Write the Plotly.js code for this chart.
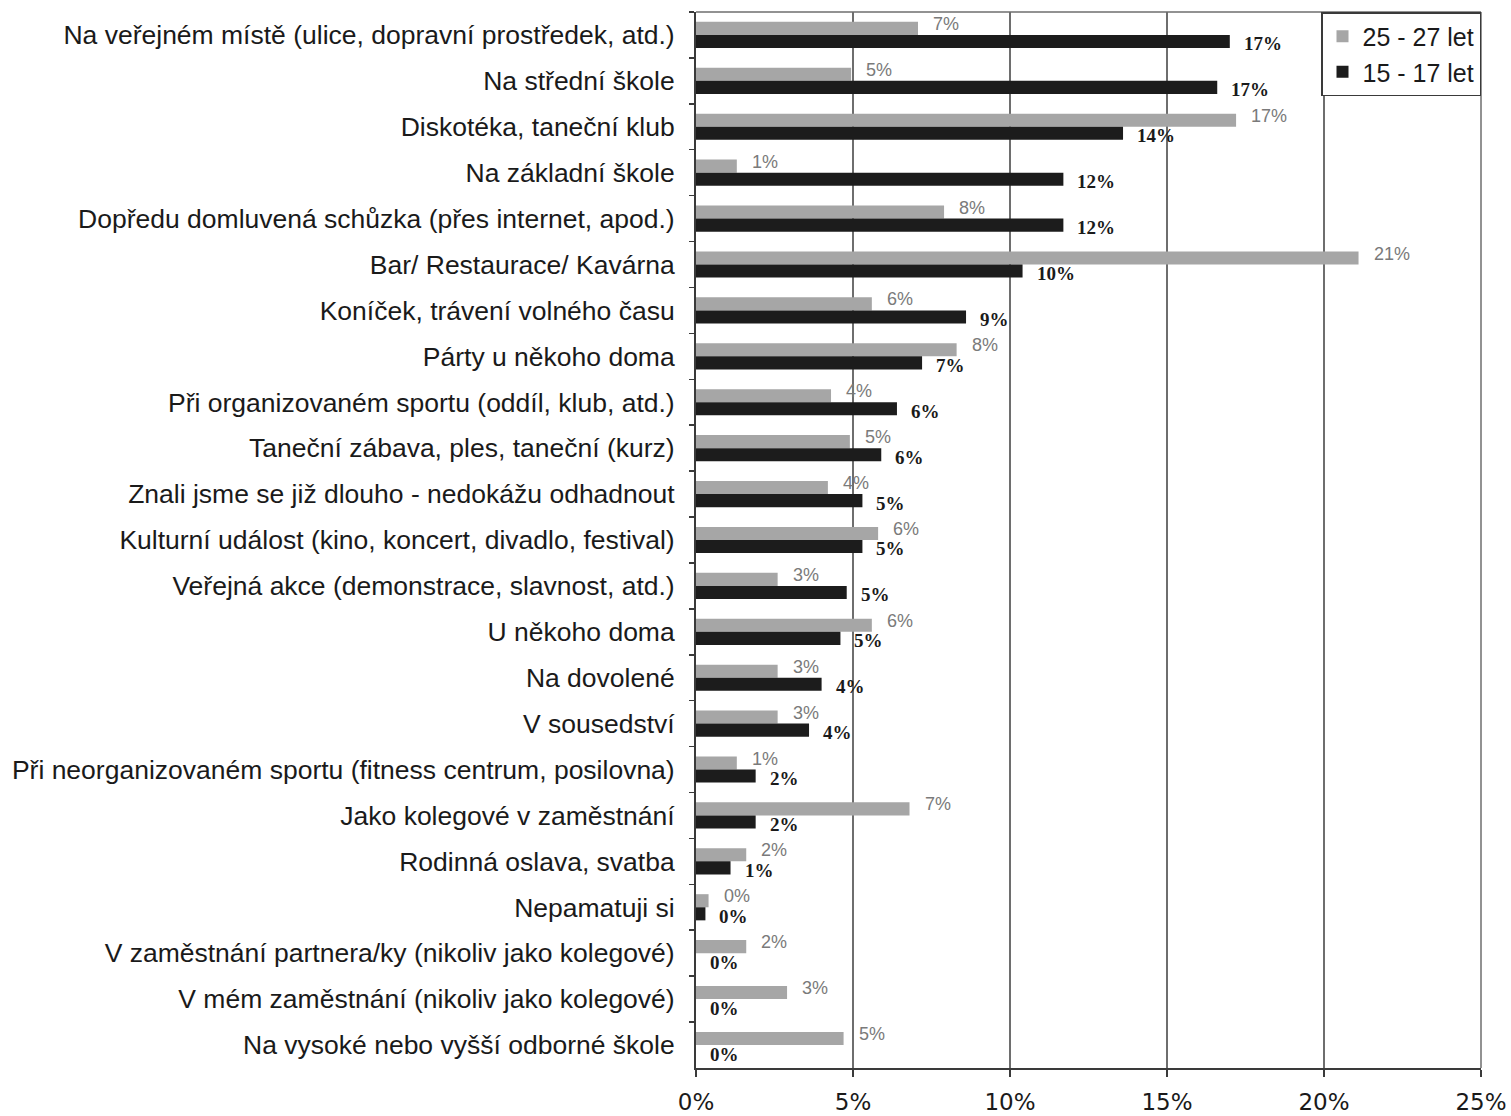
<!DOCTYPE html>
<html>
<head>
<meta charset="utf-8">
<script src="https://cdn.plot.ly/plotly-3.0.1.min.js"></script>
<style>html,body{margin:0;padding:0;background:#fff;}#chart{width:1511px;height:1116px;}</style>
</head>
<body>
<div id="chart"></div>
<script>
const categories = [
  "Na veřejném místě (ulice, dopravní prostředek, atd.)",
  "Na střední škole",
  "Diskotéka, taneční klub",
  "Na základní škole",
  "Dopředu domluvená schůzka (přes internet, apod.)",
  "Bar/ Restaurace/ Kavárna",
  "Koníček, trávení volného času",
  "Párty u někoho doma",
  "Při organizovaném sportu (oddíl, klub, atd.)",
  "Taneční zábava, ples, taneční (kurz)",
  "Znali jsme se již dlouho - nedokážu odhadnout",
  "Kulturní událost (kino, koncert, divadlo, festival)",
  "Veřejná akce (demonstrace, slavnost, atd.)",
  "U někoho doma",
  "Na dovolené",
  "V sousedství",
  "Při neorganizovaném sportu (fitness centrum, posilovna)",
  "Jako kolegové v zaměstnání",
  "Rodinná oslava, svatba",
  "Nepamatuji si",
  "V zaměstnání partnera/ky (nikoliv jako kolegové)",
  "V mém zaměstnání (nikoliv jako kolegové)",
  "Na vysoké nebo vyšší odborné škole"
];
const age25_27 = [7.07, 4.94, 17.2, 1.3, 7.9, 21.1, 5.6, 8.3, 4.3, 4.9, 4.2, 5.8, 2.6, 5.6, 2.6, 2.6, 1.3, 6.8, 1.6, 0.4, 1.6, 2.9, 4.7];
const age15_17 = [17.0, 16.6, 13.6, 11.7, 11.7, 10.4, 8.6, 7.2, 6.4, 5.9, 5.3, 5.3, 4.8, 4.6, 4.0, 3.6, 1.9, 1.9, 1.1, 0.3, 0, 0, 0];
const seriesNames = ["25 - 27 let", "15 - 17 let"];
const xTickVals = [0, 5, 10, 15, 20, 25];
const xTickText = ["0%", "5%", "10%", "15%", "20%", "25%"];

const grayCol = "#a6a6a6";
const darkCol = "#1c1c1c";

const traces = [
  {type: "bar", orientation: "h", name: seriesNames[0], y: categories, x: age25_27,
   marker: {color: grayCol, line: {width: 0}}, hoverinfo: "x+y"},
  {type: "bar", orientation: "h", name: seriesNames[1], y: categories, x: age15_17,
   marker: {color: darkCol, line: {width: 0}}, hoverinfo: "x+y"}
];

const annotations = [];
categories.forEach((c, i) => {
  annotations.push({x: age25_27[i], y: c, xref: "x", yref: "y", text: Math.round(age25_27[i]) + "%",
    showarrow: false, xanchor: "left", yanchor: "middle", xshift: 13, yshift: 11,
    font: {family: "Liberation Sans, Arial, sans-serif", size: 18, color: "#7a7a7a"}});
  annotations.push({x: age15_17[i], y: c, xref: "x", yref: "y", text: Math.round(age15_17[i]) + "%",
    showarrow: false, xanchor: "left", yanchor: "middle", xshift: 12, yshift: -9,
    font: {family: "Liberation Serif, Times New Roman, serif", size: 19, color: "#1a1a1a", weight: "bold"}});
});

const layout = {
  width: 1511, height: 1116,
  margin: {l: 696, r: 30, t: 12, b: 48, pad: 0},
  paper_bgcolor: "#fff", plot_bgcolor: "#fff",
  barmode: "group", bargap: 0.43, bargroupgap: 0,
  font: {family: "Liberation Sans, Arial, sans-serif", color: "#1a1a1a"},
  xaxis: {range: [0, 25], tickvals: xTickVals, ticktext: xTickText,
    showgrid: true, gridcolor: "#6e6e6e", gridwidth: 1.3,
    showline: true, linecolor: "#3a3a3a", linewidth: 2, mirror: false,
    ticks: "outside", ticklen: 7, tickcolor: "#3a3a3a", tickwidth: 1.5,
    ticklabelstandoff: 5,
    tickfont: {size: 23, family: "DejaVu Sans, sans-serif", color: "#1a1a1a"}, zeroline: false, fixedrange: true},
  yaxis: {type: "category", autorange: "reversed", tickson: "boundaries",
    showline: true, linecolor: "#3a3a3a", linewidth: 2,
    ticks: "outside", ticklen: 5, tickcolor: "#3a3a3a", tickwidth: 1.5,
    ticklabelstandoff: 14,
    tickfont: {size: 26.5, family: "Liberation Sans, Arial, sans-serif", color: "#1a1a1a"}, showgrid: false, fixedrange: true},
  legend: {x: 1, xanchor: "right", y: 1, yanchor: "top", bgcolor: "#fff",
    bordercolor: "#3a3a3a", borderwidth: 1.5, traceorder: "normal",
    font: {size: 25, family: "Liberation Sans, Arial, sans-serif", color: "#1a1a1a"},
    itemwidth: 30, tracegroupgap: 0},
  shapes: [
    {type: "line", xref: "paper", yref: "paper", x0: 0, x1: 1, y0: 1, y1: 1, line: {color: "#6e6e6e", width: 1.5}},
    {type: "line", xref: "paper", yref: "paper", x0: 1, x1: 1, y0: 0, y1: 1, line: {color: "#6e6e6e", width: 1.5}}
  ],
  annotations: annotations,
  showlegend: true
};

Plotly.newPlot("chart", traces, layout, {displayModeBar: false, staticPlot: true});
</script>
</body>
</html>
